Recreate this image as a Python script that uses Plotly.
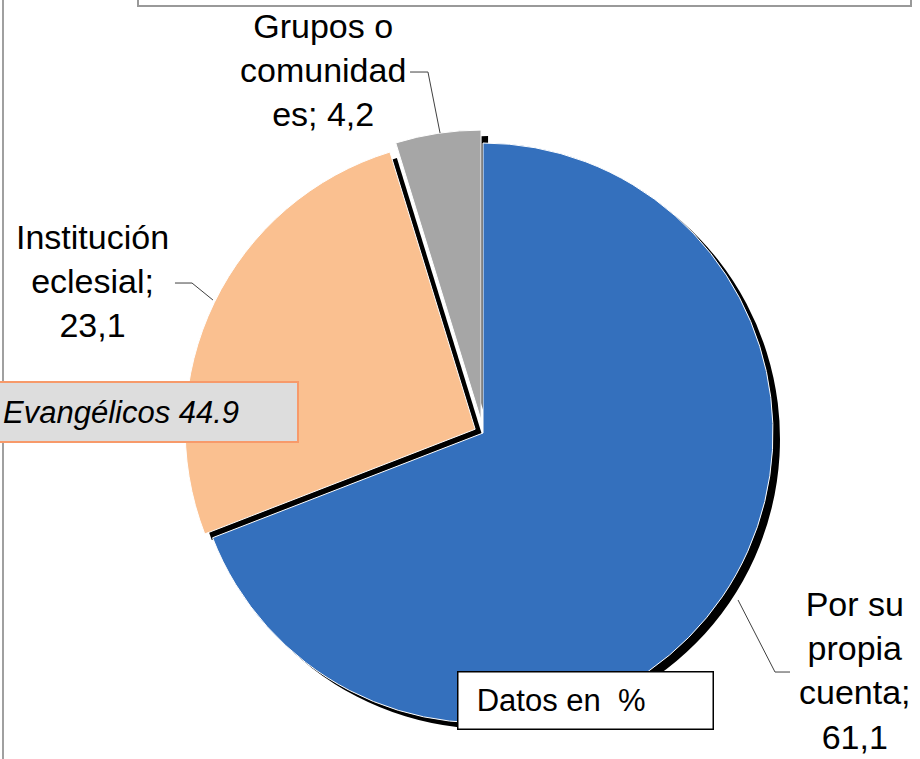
import plotly.graph_objects as go

# Data (percent)
labels = ['Por su propia cuenta', 'Institución eclesial', 'Grupos o comunidades']
values = [61.1, 23.1, 4.2]
label_text = ['Por su<br>propia<br>cuenta;<br>61,1',
              'Institución<br>eclesial;<br>23,1',
              'Grupos o<br>comunidad<br>es; 4,2']
colors = ['#3470BD', '#FAC090', '#A6A6A6']
pulls = [0, 0.03, 0.045]

W, H = 920, 759

# pie geometry (pixels) -> paper domain
cx, cy, r = 483, 433, 290
half = r * (1 + max(pulls))
dom_x = [(cx - half) / W, (cx + half) / W]
dom_y = [1 - (cy + half) / H, 1 - (cy - half) / H]
sh_x, sh_y = 7 / W, 6 / H

# black drop shadow under the pie
shadow = go.Pie(labels=labels, values=values, sort=False, direction='clockwise',
                rotation=0, pull=pulls, textinfo='none', hoverinfo='skip',
                marker=dict(colors=['#000000'] * 3, line=dict(width=0)),
                domain=dict(x=[dom_x[0] + sh_x, dom_x[1] + sh_x],
                            y=[dom_y[0] - sh_y, dom_y[1] - sh_y]),
                showlegend=False)

pie = go.Pie(labels=labels, values=values, sort=False, direction='clockwise',
             rotation=0, pull=pulls, textinfo='none',
             marker=dict(colors=colors, line=dict(color='white', width=1)),
             domain=dict(x=dom_x, y=dom_y), showlegend=False)

fig = go.Figure(data=[shadow, pie])

font = dict(family='Liberation Sans, Arial, sans-serif', size=34, color='black')

# outside labels
label_pos = [(855, 670), (92, 281), (323, 70)]
for txt, (px, py) in zip(label_text, label_pos):
    fig.add_annotation(x=px / W, y=1 - py / H, xref='paper', yref='paper',
                       text=txt, showarrow=False, font=font,
                       xanchor='center', yanchor='middle', align='center')

# leader lines
leaders = [
    [(738, 600), (775, 672), (790, 672)],
    [(175, 283), (192, 283), (213, 300)],
    [(410, 72), (428, 72), (440, 133)],
]
for pts in leaders:
    path = 'M ' + ' L '.join(f'{x / W:.4f},{1 - y / H:.4f}' for x, y in pts)
    fig.add_shape(type='path', path=path, xref='paper', yref='paper',
                  line=dict(color='#404040', width=1))

# text boxes
fig.add_annotation(x=-2 / W, y=1 - 412 / H, xref='paper', yref='paper',
                   text='<i>Evangélicos 44.9</i>', showarrow=False,
                   font=dict(family='Liberation Sans, Arial, sans-serif', size=31, color='black'),
                   xanchor='left', yanchor='middle', align='left',
                   width=291, height=52, bgcolor='#DDDDDD',
                   bordercolor='#F79A6A', borderwidth=2, borderpad=3)
fig.add_annotation(x=457 / W, y=1 - 700 / H, xref='paper', yref='paper',
                   text='\u00a0\u00a0Datos en\u00a0\u00a0%', showarrow=False,
                   font=dict(family='Liberation Sans, Arial, sans-serif', size=31, color='black'),
                   xanchor='left', yanchor='middle', align='left',
                   width=252, height=54, bgcolor='white',
                   bordercolor='black', borderwidth=1.5, borderpad=1)

# frame pieces: left border and the cut-off title box at the top
fig.add_shape(type='line', xref='paper', yref='paper', x0=3 / W, x1=3 / W, y0=0, y1=1,
              line=dict(color='#A0A0A0', width=2))
fig.add_shape(type='rect', xref='paper', yref='paper', x0=138 / W, x1=911 / W,
              y0=1 - 6 / H, y1=1.05, line=dict(color='#999999', width=2))

fig.update_layout(width=W, height=H, margin=dict(l=0, r=0, t=0, b=0),
                  paper_bgcolor='white', plot_bgcolor='white')

# remove the default page margin so the figure sits at the window's corner
fig.write_html('out.html', config={'displayModeBar': False},
               post_script="document.body.style.margin='0px';")
